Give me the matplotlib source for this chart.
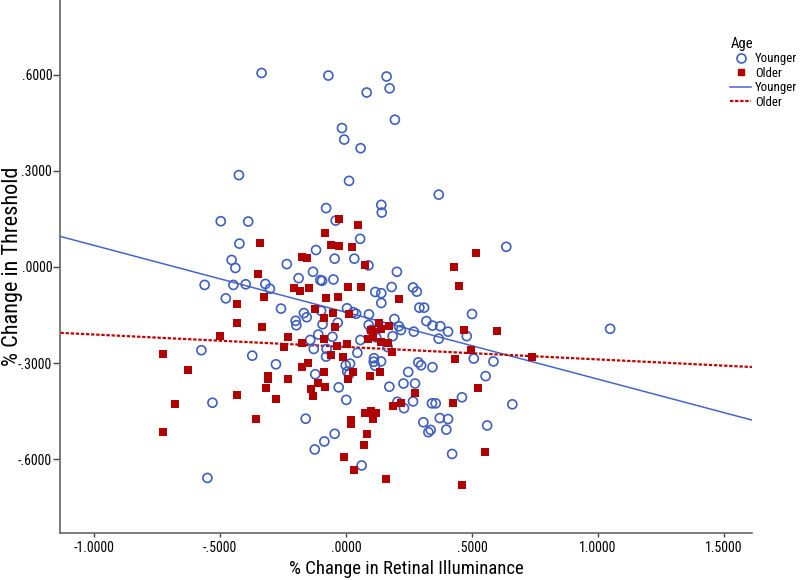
import matplotlib
matplotlib.use("Agg")
import matplotlib.pyplot as plt
from matplotlib import font_manager
from matplotlib.ticker import FuncFormatter, FixedLocator
from matplotlib.lines import Line2D
import numpy as np

# ---- pick a narrow sans font if one is installed ----
narrow_name = None
narrow_stretch = None
names = {f.name for f in font_manager.fontManager.ttflist}
for cand in ['Liberation Sans Narrow', 'Arial Narrow', 'Roboto Condensed',
             'Open Sans Condensed', 'Noto Sans Condensed', 'DejaVu Sans Condensed',
             'Noto Sans SemiCondensed', 'Open Sans SemiCondensed']:
    if cand in names:
        narrow_name = cand
        break
if narrow_name is None:
    for f in font_manager.fontManager.ttflist:
        st = str(f.stretch).lower()
        if 'condensed' in st and f.name in ('DejaVu Sans', 'Noto Sans', 'Open Sans', 'Roboto') \
                and f.style == 'normal':
            narrow_name = f.name
            narrow_stretch = 'condensed'
            break
if narrow_name is None:
    for f in font_manager.fontManager.ttflist:
        if ('Narrow' in f.name or 'Condensed' in f.name) and 'Mono' not in f.name and 'Serif' not in f.name:
            narrow_name = f.name
            break

if narrow_name is not None:
    plt.rcParams['font.family'] = [narrow_name, 'DejaVu Sans']
    if narrow_stretch:
        plt.rcParams['font.stretch'] = narrow_stretch
    tick_fs, xlab_fs, ylab_fs, leg_fs, title_fs = 10, 13.5, 16, 9.3, 10.5
else:
    plt.rcParams['font.family'] = ['Liberation Sans', 'DejaVu Sans']
    tick_fs, xlab_fs, ylab_fs, leg_fs, title_fs = 8.5, 11.5, 13.5, 8, 9

# ---- data ----
younger_x = [-0.335, -0.070, 0.161, 0.082, 0.173, 0.194, -0.016, -0.007, 0.058, -0.425,
             0.012, 0.368, -0.079, 0.140, 0.142, -0.497, -0.388, -0.041, -0.423, 0.056,
             -0.454, -0.439, -0.119, -0.045, 0.033, 0.089, -0.235, 0.202, -0.131, -0.188,
             -0.102, -0.095, -0.050, -0.561, -0.447, -0.398, -0.320, -0.302, 0.116, 0.140,
             0.181, 0.266, 0.281, -0.477, 0.636, 1.048, 0.660, -0.258, 0.004, -0.099,
             -0.167, -0.156, -0.200, -0.197, -0.093, -0.033, -0.110, -0.054, -0.142, -0.128,
             -0.077, -0.574, -0.372, -0.079, -0.278, -0.001, 0.005, -0.122, -0.029, 0.001,
             -0.530, -0.160, -0.045, -0.086, -0.124, -0.550, 0.140, 0.291, 0.310, 0.500,
             0.029, 0.040, 0.091, 0.192, 0.319, 0.343, 0.374, 0.405, 0.479, 0.090,
             0.101, 0.124, 0.210, 0.218, 0.269, 0.185, 0.368, 0.057, 0.120, 0.165,
             0.045, 0.111, 0.110, 0.139, 0.115, 0.287, 0.298, 0.343, 0.507, 0.585,
             0.554, 0.016, 0.013, 0.247, 0.172, 0.228, 0.274, 0.460, 0.204, 0.230,
             0.266, 0.341, 0.356, 0.307, 0.372, 0.405, 0.560, 0.327, 0.336, 0.398,
             0.062, 0.421]
younger_y = [0.606, 0.598, 0.595, 0.545, 0.558, 0.460, 0.434, 0.398, 0.371, 0.287,
             0.269, 0.226, 0.184, 0.194, 0.170, 0.143, 0.142, 0.145, 0.073, 0.088,
             0.022, -0.003, 0.053, 0.026, 0.026, 0.005, 0.009, -0.015, -0.015, -0.035,
             -0.041, -0.043, -0.039, -0.056, -0.056, -0.054, -0.053, -0.068, -0.078, -0.082,
             -0.0625, -0.064, -0.077, -0.098, 0.063, -0.193, -0.429, -0.130, -0.129, -0.137,
             -0.144, -0.157, -0.168, -0.182, -0.179, -0.174, -0.211, -0.218, -0.228, -0.256,
             -0.256, -0.260, -0.277, -0.280, -0.304, -0.307, -0.327, -0.335, -0.376, -0.415,
             -0.424, -0.474, -0.521, -0.545, -0.570, -0.659, -0.1125, -0.127, -0.127, -0.147,
             -0.141, -0.146, -0.148, -0.1625, -0.169, -0.183, -0.185, -0.202, -0.216, -0.181,
             -0.197, -0.194, -0.185, -0.197, -0.202, -0.216, -0.224, -0.228, -0.220, -0.250,
             -0.268, -0.285, -0.296, -0.295, -0.308, -0.298, -0.307, -0.313, -0.286, -0.295,
             -0.341, -0.302, -0.335, -0.328, -0.374, -0.364, -0.364, -0.407, -0.421, -0.441,
             -0.420, -0.426, -0.426, -0.485, -0.472, -0.475, -0.495, -0.516, -0.509, -0.508,
             -0.620, -0.584]

older_x = [-0.029, 0.048, -0.083, -0.341, -0.058, -0.029, 0.023, -0.176, -0.156, 0.077,
           -0.349, -0.205, -0.183, -0.148, 0.007, 0.060, -0.327, -0.078, -0.032, 0.212,
           0.517, 0.430, 0.450, 0.739, 0.599, -0.433, -0.123, -0.088, -0.050, 0.013,
           -0.433, -0.335, -0.044, -0.500, -0.229, -0.088, -0.173, -0.245, -0.036, 0.003,
           -0.727, -0.058, -0.013, -0.627, -0.176, -0.150, -0.311, -0.308, -0.231, -0.086,
           0.008, -0.111, -0.082, -0.317, -0.138, -0.132, -0.433, -0.278, -0.680, -0.356,
           -0.726, -0.007, 0.130, 0.139, 0.172, 0.098, 0.108, 0.469, 0.086, 0.108,
           0.139, 0.167, 0.181, 0.433, 0.496, 0.029, 0.097, 0.136, 0.272, 0.525,
           0.188, 0.219, 0.426, 0.074, 0.098, 0.120, 0.106, 0.020, 0.019, 0.083,
           0.070, 0.032, 0.159, 0.552, 0.462]
older_y = [0.150, 0.131, 0.107, 0.076, 0.069, 0.066, 0.0625, 0.032, 0.028, 0.005,
           -0.021, -0.065, -0.074, -0.066, -0.061, -0.064, -0.095, -0.098, -0.094, -0.101,
           0.044, 0.000, -0.059, -0.282, -0.200, -0.116, -0.131, -0.160, -0.145, -0.147,
           -0.175, -0.1875, -0.186, -0.215, -0.219, -0.225, -0.236, -0.250, -0.246, -0.242,
           -0.271, -0.274, -0.280, -0.321, -0.311, -0.301, -0.341, -0.349, -0.350, -0.327,
           -0.351, -0.361, -0.374, -0.378, -0.382, -0.402, -0.401, -0.413, -0.427, -0.475,
           -0.517, -0.592, -0.174, -0.195, -0.185, -0.197, -0.202, -0.197, -0.225, -0.220,
           -0.235, -0.238, -0.267, -0.286, -0.259, -0.328, -0.341, -0.327, -0.393, -0.379,
           -0.434, -0.425, -0.426, -0.455, -0.450, -0.456, -0.474, -0.479, -0.492, -0.521,
           -0.557, -0.633, -0.661, -0.579, -0.680]

# fit lines (intercept, slope)
younger_fit = [-0.1415, -0.209]
older_fit = [-0.2498, -0.0389]

x_ticks = [-1.0, -0.5, 0.0, 0.5, 1.0, 1.5]
y_ticks = [-0.6, -0.3, 0.0, 0.3, 0.6]
x_label = "% Change in Retinal Illuminance"
y_label = "% Change in Threshold"
legend_title = "Age"
group_names = ["Younger", "Older"]

# ---- styles ----
blue = "#3f5fbf"
blue_line = "#4565cc"
red = "#b00000"
red_line = "#c00000"
xlim = (-1.133, 1.611)
ylim = (-0.831, 0.834)

fig = plt.figure(figsize=(8, 5.8), dpi=100)
ax = fig.add_axes([0.0756, 0.081, 0.8644, 0.919])

ax.scatter(younger_x, younger_y, s=42, facecolors='none', edgecolors=blue,
           linewidths=1.2, marker='o', zorder=3)
ax.scatter(older_x, older_y, s=26, color=red, marker='s', linewidths=0, zorder=3)

xs = np.array(xlim)
ax.plot(xs, younger_fit[0] + younger_fit[1] * xs, color=blue_line, lw=1.1, zorder=2)
ax.plot(xs, older_fit[0] + older_fit[1] * xs, color=red_line, lw=1.6,
        linestyle=(0, (1.5, 0.8)), zorder=2)

ax.set_xlim(*xlim)
ax.set_ylim(*ylim)

def fmt(v, pos=None):
    s = f"{v:.4f}"
    if s.startswith("0."):
        s = s[1:]
    elif s.startswith("-0."):
        s = "-" + s[2:]
    if s == "-.0000":
        s = ".0000"
    return s

ax.xaxis.set_major_locator(FixedLocator(x_ticks))
ax.yaxis.set_major_locator(FixedLocator(y_ticks))
ax.xaxis.set_major_formatter(FuncFormatter(fmt))
ax.yaxis.set_major_formatter(FuncFormatter(fmt))

for side in ['top', 'right']:
    ax.spines[side].set_visible(False)
for side in ['left', 'bottom']:
    ax.spines[side].set_color('#666666')
    ax.spines[side].set_linewidth(1.2)
ax.tick_params(axis='y', length=5, width=1, color='#444444', labelsize=tick_fs, pad=1)
ax.tick_params(axis='x', length=3, width=1, color='#444444', labelsize=tick_fs, pad=3)

ax.set_xlabel(x_label, fontsize=xlab_fs)
ax.set_ylabel(y_label, fontsize=ylab_fs)
ax.xaxis.set_label_coords(0.5, -0.05)
ax.yaxis.set_label_coords(-0.054, 0.5)

handles = [
    Line2D([], [], marker='o', linestyle='none', markerfacecolor='none',
           markeredgecolor=blue, markeredgewidth=1.2, markersize=6.5),
    Line2D([], [], marker='s', linestyle='none', color=red, markersize=5),
    Line2D([], [], color=blue_line, lw=1.1),
    Line2D([], [], color=red_line, lw=1.6, linestyle=(0, (1.5, 0.8))),
]
labels = [group_names[0], group_names[1], group_names[0], group_names[1]]
leg = fig.legend(handles, labels, title=legend_title, loc='upper left',
                 bbox_to_anchor=(0.913, 0.937), frameon=False, fontsize=leg_fs,
                 title_fontsize=title_fs, handlelength=1.6, handletextpad=0.3,
                 labelspacing=0.12, borderaxespad=0, borderpad=0, alignment='left')

fig.savefig("out.png", dpi=100)
